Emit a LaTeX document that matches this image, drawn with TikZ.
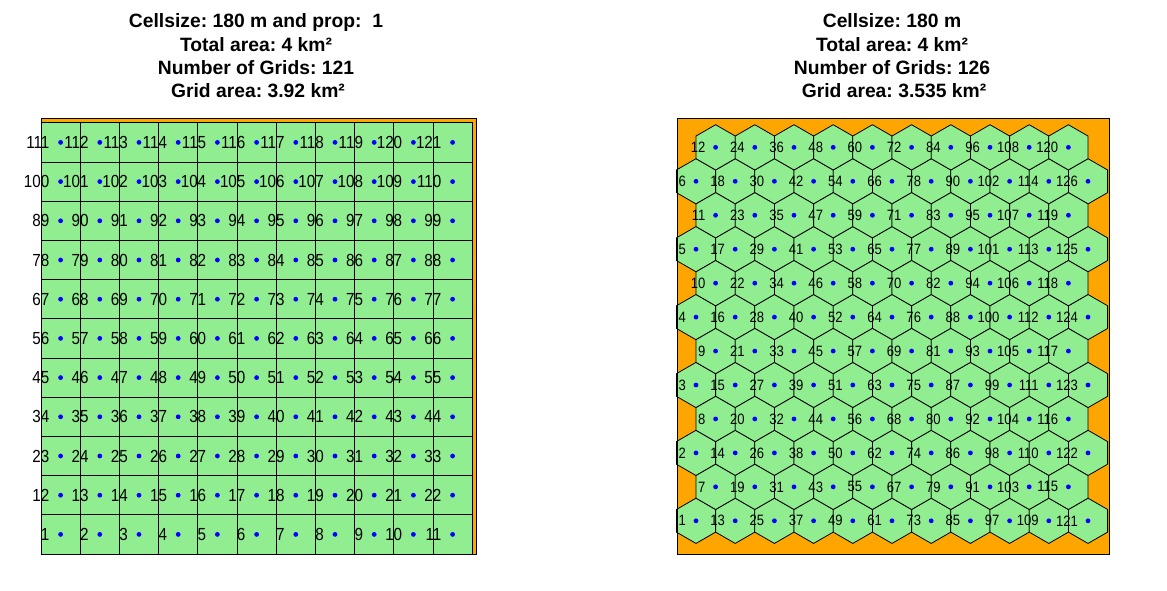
\documentclass[tikz,border=0pt]{standalone}
\usepackage{fontspec}
\setmainfont{Liberation Sans}
\newfontfamily\labfont[FakeStretch=0.87]{Liberation Sans}
\definecolor{lgreen}{HTML}{90EE90}
\definecolor{orng}{HTML}{FFA500}
\frenchspacing
\begin{document}
\begin{tikzpicture}[x=1pt,y=-1pt,
  titletext/.style={font=\bfseries\fontsize{19.3}{23}\selectfont, anchor=base, inner sep=0pt},
  sqcell/.style={fill=lgreen, draw=black, line width=0.8pt},
  hexcell/.style={fill=lgreen, draw=black, line width=0.8pt, line join=miter},
  framebox/.style={draw=black, line width=1pt},
  bluedot/.style={circle, fill=blue, inner sep=0pt, minimum size=4.8pt},
  leftlab/.style={anchor=east, inner sep=0pt, font=\labfont\fontsize{17.5}{17.5}\selectfont},
  rightlab/.style={anchor=east, inner sep=0pt, font=\labfont\fontsize{15}{15}\selectfont}]
\useasboundingbox (0,0) rectangle (1167,591);

% ---------- titles ----------
\node[titletext] (ta1) at (256,28) {Cellsize: 180 m and prop:\ \ 1};
\node[titletext] (ta2) at (256,51.3) {Total area: 4 km²};
\node[titletext] (ta3) at (256,74.7) {Number of Grids: 121};
\node[titletext] (ta4) at (258,98) {Grid area: 3.92 km²};
\node[titletext] (tb1) at (892,28) {Cellsize: 180 m};
\node[titletext] (tb2) at (892,51.3) {Total area: 4 km²};
\node[titletext] (tb3) at (892,74.7) {Number of Grids: 126};
\node[titletext] (tb4) at (894,98) {Grid area: 3.535 km²};

% ---------- left panel: square grid ----------
\fill[orng] (41,119) rectangle (476,554);
\foreach \i in {0,...,10}{
  \foreach \j in {0,...,10}{
    \pgfmathsetmacro\cx{60.6+39.2*\j}
    \pgfmathsetmacro\cy{534.4-39.2*\i}
    \draw[sqcell] (\cx-19.6,\cy-19.6) rectangle (\cx+19.6,\cy+19.6);
  }
}
\foreach \i in {0,...,10}{
  \foreach \j in {0,...,10}{
    \pgfmathsetmacro\cx{60.6+39.2*\j}
    \pgfmathsetmacro\cy{534.4-39.2*\i}
    \pgfmathtruncatemacro\n{11*\i+\j+1}
    \node[bluedot] (p\n) at (\cx,\cy) {};
    \node[leftlab] (l\n) at (\cx-11,\cy) {\n};
  }
}
\draw[framebox] (41,119) rectangle (476,554);

% ---------- right panel: hexagonal grid ----------
\fill[orng] (677,119) rectangle (1109.5,554);
% even rows (not offset)
\foreach \k in {0,...,5}{
  \foreach \j in {0,...,10}{
    \pgfmathsetmacro\cx{696+39.2*\j}
    \pgfmathsetmacro\cy{520.8-67.9*\k}
    \draw[hexcell] (\cx+19.6,\cy-11.315) -- (\cx,\cy-22.63) -- (\cx-19.6,\cy-11.315) -- (\cx-19.6,\cy+11.315) -- (\cx,\cy+22.63) -- (\cx+19.6,\cy+11.315) -- cycle;
  }
}
% odd rows (offset)
\foreach \k in {0,...,5}{
  \foreach \j in {0,...,9}{
    \pgfmathsetmacro\cx{715.6+39.2*\j}
    \pgfmathsetmacro\cy{486.85-67.9*\k}
    \draw[hexcell] (\cx+19.6,\cy-11.315) -- (\cx,\cy-22.63) -- (\cx-19.6,\cy-11.315) -- (\cx-19.6,\cy+11.315) -- (\cx,\cy+22.63) -- (\cx+19.6,\cy+11.315) -- cycle;
  }
}
\foreach \k in {0,...,5}{
  \foreach \j in {0,...,10}{
    \pgfmathsetmacro\cx{696+39.2*\j}
    \pgfmathsetmacro\cy{520.8-67.9*\k}
    \pgfmathtruncatemacro\n{1+\k+12*\j}
    \node[bluedot] (q\n) at (\cx,\cy) {};
    \node[rightlab] (h\n) at (\cx-10,\cy) {\n};
  }
}
\foreach \k in {0,...,5}{
  \foreach \j in {0,...,9}{
    \pgfmathsetmacro\cx{715.6+39.2*\j}
    \pgfmathsetmacro\cy{486.85-67.9*\k}
    \pgfmathtruncatemacro\n{7+\k+12*\j}
    \node[bluedot] (q\n) at (\cx,\cy) {};
    \node[rightlab] (h\n) at (\cx-10,\cy) {\n};
  }
}
\draw[framebox] (677,119) rectangle (1109.5,554);
\end{tikzpicture}
\end{document}
